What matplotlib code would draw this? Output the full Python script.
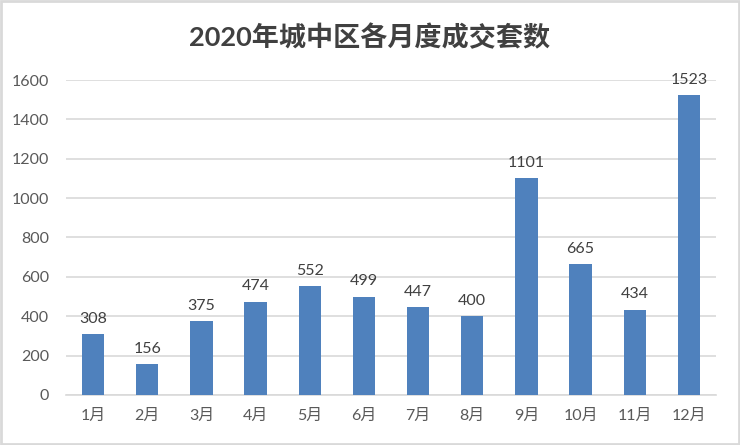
import matplotlib
matplotlib.use("Agg")
import matplotlib.pyplot as plt
from matplotlib.patches import Rectangle

plt.rcParams['font.family'] = ['Lato', 'Noto Sans CJK SC', 'DejaVu Sans']

months = ['1月', '2月', '3月', '4月', '5月', '6月', '7月', '8月', '9月', '10月', '11月', '12月']
values = [308, 156, 375, 474, 552, 499, 447, 400, 1101, 665, 434, 1523]
yticks = [0, 200, 400, 600, 800, 1000, 1200, 1400, 1600]
title = '2020年城中区各月度成交套数'

fig = plt.figure(figsize=(7.4, 4.45), dpi=100)
ax = fig.add_axes([0.0892, 0.1124, 0.8784, 0.7078])

x = list(range(len(months)))
ax.bar(x, values, width=0.41, color='#4F81BD', zorder=3)
for xi, v in zip(x, values):
    ax.annotate(str(v), (xi, v), xytext=(0, 6), textcoords='offset points',
                ha='center', va='bottom', fontsize=11.5, color='#404040')

ax.set_xlim(-0.5, len(months) - 0.5)
ax.set_ylim(0, 1600)
ax.set_yticks(yticks)
ax.set_xticks(x)
ax.set_xticklabels(months)
ax.grid(axis='y', color='#d9d9d9', linewidth=1.2, zorder=0)
for s in ['top', 'right', 'left']:
    ax.spines[s].set_visible(False)
ax.spines['bottom'].set_color('#d9d9d9')
ax.spines['bottom'].set_linewidth(1.2)
ax.tick_params(axis='both', length=0, labelsize=11.5, labelcolor='#595959')
ax.tick_params(axis='x', pad=10)
ax.tick_params(axis='y', pad=12)

fig.text(0.5, 0.918, title, ha='center', va='center', fontsize=19.5,
         fontweight='bold', color='#404040')

fig.patches.append(Rectangle((0.002, 0.003), 0.996, 0.994, transform=fig.transFigure,
                             fill=False, edgecolor='#d9d9d9', linewidth=2))

fig.savefig('out.png', dpi=100)
